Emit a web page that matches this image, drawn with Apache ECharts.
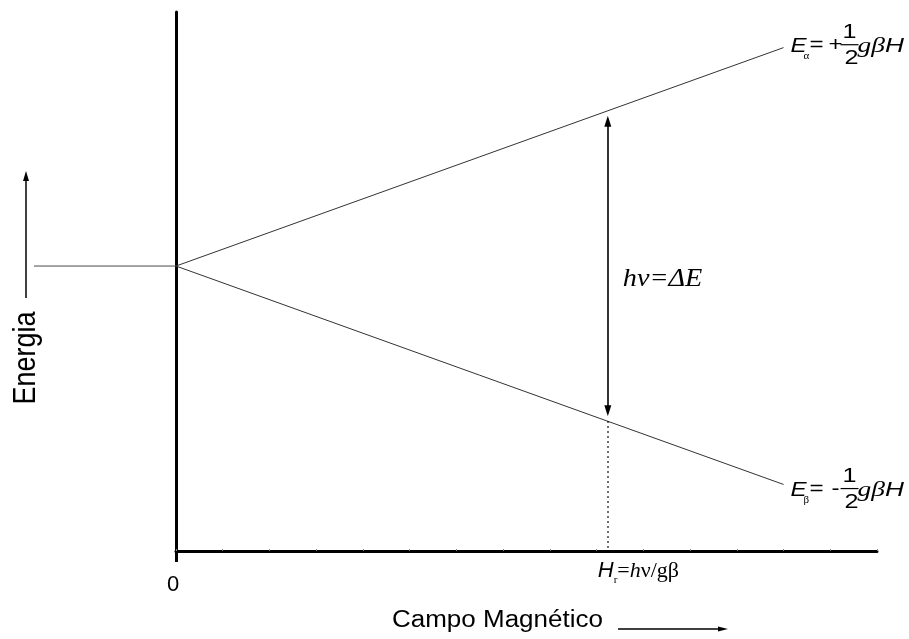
<!DOCTYPE html>
<html>
<head>
<meta charset="utf-8">
<script src="https://cdn.jsdelivr.net/npm/echarts@6/dist/echarts.min.js"></script>
<style>
  html, body { margin: 0; padding: 0; background: #fff; }
  #chart { width: 909px; height: 639px; }
</style>
</head>
<body>
<div id="chart"></div>
<script>
// Zeeman splitting of an electron spin level in an applied magnetic field
const fieldRange = [0, 15];          // magnetic field axis (arbitrary units)
const fieldTickLabels = [0];         // field values that carry a label
const energyRange = [-8.48, 7.56];   // energy axis (arbitrary units)
const zeroFieldH = [-3.04, 0];       // degenerate level before the field is switched on
const zeroFieldE = [0, 0];
const splitH = [0, 13];              // field values of the split levels
const alphaE = [0, 6.5];             // E_alpha = +1/2 g beta H
const betaE = [0, -6.5];             // E_beta  = -1/2 g beta H
const gBeta = 1;                     // g * beta in these units
const resonanceH = 9.24;             // H_r = h nu / g beta

const zip = (xs, ys) => xs.map((x, i) => [x, ys[i]]);
const levelAt = (sign, h) => sign * 0.5 * gBeta * h;

const sans = '"Liberation Sans", Arial, sans-serif';
const serif = '"Liberation Serif", "Times New Roman", serif';

const chart = echarts.init(document.getElementById('chart'), null, { renderer: 'canvas' });

const hiddenAxis = { show: false };

chart.setOption({
  animation: false,
  backgroundColor: '#fff',
  grid: [
    { left: 176, right: 32, top: 12, bottom: 88 },   // field on
    { left: 34, right: 733, top: 12, bottom: 88 }    // zero-field stub to the left
  ],
  xAxis: [{
    type: 'value', gridIndex: 0, min: fieldRange[0], max: fieldRange[1], interval: 1,
    axisLine: { show: true, onZero: false, lineStyle: { color: '#000', width: 3 } },
    axisTick: { show: true, inside: true, length: 2, lineStyle: { color: '#888', width: 1 } },
    axisLabel: {
      margin: 23, color: '#000', fontSize: 22, fontFamily: sans, padding: [0, 6, 0, 0],
      formatter: v => fieldTickLabels.includes(v) ? String(v) : ''
    },
    splitLine: { show: false }
  }, {
    // short stub of the energy axis below the field axis
    type: 'value', gridIndex: 0, min: fieldRange[0], max: fieldRange[1], interval: 15,
    position: 'bottom',
    axisLine: { show: false, onZero: false },
    axisTick: { show: true, customValues: [0], length: 11, lineStyle: { color: '#000', width: 3 } },
    axisLabel: { show: false },
    splitLine: { show: false }
  }, Object.assign({
    type: 'value', gridIndex: 1, min: zeroFieldH[0], max: zeroFieldH[1]
  }, hiddenAxis)],
  yAxis: [{
    type: 'value', gridIndex: 0, min: energyRange[0], max: energyRange[1],
    axisLine: { show: true, onZero: false, lineStyle: { color: '#000', width: 3 } },
    axisTick: { show: false }, axisLabel: { show: false }, splitLine: { show: false }
  }, Object.assign({
    type: 'value', gridIndex: 1, min: energyRange[0], max: energyRange[1]
  }, hiddenAxis)],
  series: [{
    name: 'level', type: 'line', xAxisIndex: 2, yAxisIndex: 1, symbol: 'none', silent: true,
    data: zip(zeroFieldH, zeroFieldE),
    lineStyle: { color: '#4a4a4a', width: 1 }
  }, {
    name: 'alpha', type: 'line', symbol: 'none', silent: true,
    data: zip(splitH, alphaE),
    lineStyle: { color: '#333', width: 1 },
    markLine: {
      silent: true, symbol: ['triangle', 'triangle'], symbolSize: [7, 11],
      label: { show: false },
      lineStyle: { color: '#000', width: 1.6, type: 'solid' },
      data: [[
        { coord: [resonanceH, levelAt(1, resonanceH) - 0.31] },
        { coord: [resonanceH, levelAt(-1, resonanceH) + 0.31] }
      ]]
    }
  }, {
    name: 'beta', type: 'line', symbol: 'none', silent: true,
    data: zip(splitH, betaE),
    lineStyle: { color: '#333', width: 1 },
    markLine: {
      silent: true, symbol: ['none', 'none'],
      label: { show: false },
      lineStyle: { color: '#000', width: 1.5, type: [1.5, 3.5] },
      data: [[
        { coord: [resonanceH, levelAt(-1, resonanceH)] },
        { coord: [resonanceH, energyRange[0]] }
      ]]
    }
  }]
});

// annotation lettering, placed from the data through the grid's coordinate system
const px = (h, e) => chart.convertToPixel({ gridIndex: 0 }, [h, e]);

function txt(x, y, text, font, sx, style = {}, el = {}) {
  return Object.assign({
    type: 'text', x, y, scaleX: sx, silent: true,
    style: Object.assign({ text, font, fill: '#000', align: 'left', verticalAlign: 'middle' }, style)
  }, el);
}

const rs = (size, family, italic, extra = {}) =>
  Object.assign({ fontSize: size, fontFamily: family, fontStyle: italic ? 'italic' : 'normal', color: '#000' }, extra);

function levelLabel(endH, endE, sub, sign, dy) {
  const [xe, ye] = px(endH, endE);
  const c = ye + dy;
  return [
    txt(xe + 7, c, 'E', 'italic 21px ' + sans, 1.15),
    txt(xe + 20, c + 10, sub, '10px ' + serif, 1.1),
    txt(xe + 26, c - 1, '=', '21px ' + sans, 1.15),
    txt(xe + 52, c - 1, sign, '21px ' + sans, 1.15, { align: 'center' }),
    { type: 'rect', silent: true, shape: { x: xe + 57, y: c - 2.5, width: 18, height: 1.2 }, style: { fill: '#000' } },
    txt(xe + 66, c - 14, '1', '21px ' + sans, 1.2, { align: 'center' }),
    txt(xe + 68, c + 12, '2', '21px ' + sans, 1.2, { align: 'center' }),
    txt(xe + 74, c, '{s|g\u03B2}{h|H}', '21px ' + sans, 1.25, {
      rich: { s: rs(22, serif, true), h: rs(21, sans, true) }
    })
  ];
}

function arrow(x1, y1, x2, y2, head, half) {
  const len = Math.hypot(x2 - x1, y2 - y1);
  const ux = (x2 - x1) / len, uy = (y2 - y1) / len;
  const bx = x2 - ux * head, by = y2 - uy * head;
  return [
    { type: 'line', silent: true, shape: { x1, y1, x2: bx, y2: by }, style: { stroke: '#000', lineWidth: 1.5 } },
    { type: 'polygon', silent: true, shape: { points: [[x2, y2], [bx - uy * half, by + ux * half], [bx + uy * half, by - ux * half]] }, style: { fill: '#000' } }
  ];
}

const [xr, y0] = px(resonanceH, 0);
const [, yAxisBase] = px(resonanceH, energyRange[0]);

const elements = [
  ...levelLabel(splitH[1], alphaE[1], '\u03B1', '+', -1),
  ...levelLabel(splitH[1], betaE[1], '\u03B2', '-', 6),
  txt(xr + 15, y0 + 13, 'h\u03BD=\u0394E', 'italic 25px ' + serif, 1.13),
  txt(xr - 10, yAxisBase + 20, '{h|H}{r|r}{t|=}{i|h}{t|\u03BD/g\u03B2}', '22px ' + serif, 1.0, {
    rich: {
      h: rs(22, sans, true),
      r: rs(11, serif, false, { padding: [18, 0, 0, 0] }),
      t: rs(22, serif, false),
      i: rs(22, serif, true)
    }
  }),
  {
    type: 'text', x: 26, y: 358, rotation: Math.PI / 2, scaleY: 1.15, silent: true,
    style: { text: 'Energia', font: '27px ' + sans, fill: '#000', align: 'center', verticalAlign: 'middle' }
  },
  ...arrow(26, 298, 26, 171, 10, 3),
  txt(392, 621, 'Campo Magn\u00E9tico', '23px ' + sans, 1.13),
  ...arrow(618, 629, 728, 629, 10, 2.5)
];

chart.setOption({ graphic: { elements } });
</script>
</body>
</html>
